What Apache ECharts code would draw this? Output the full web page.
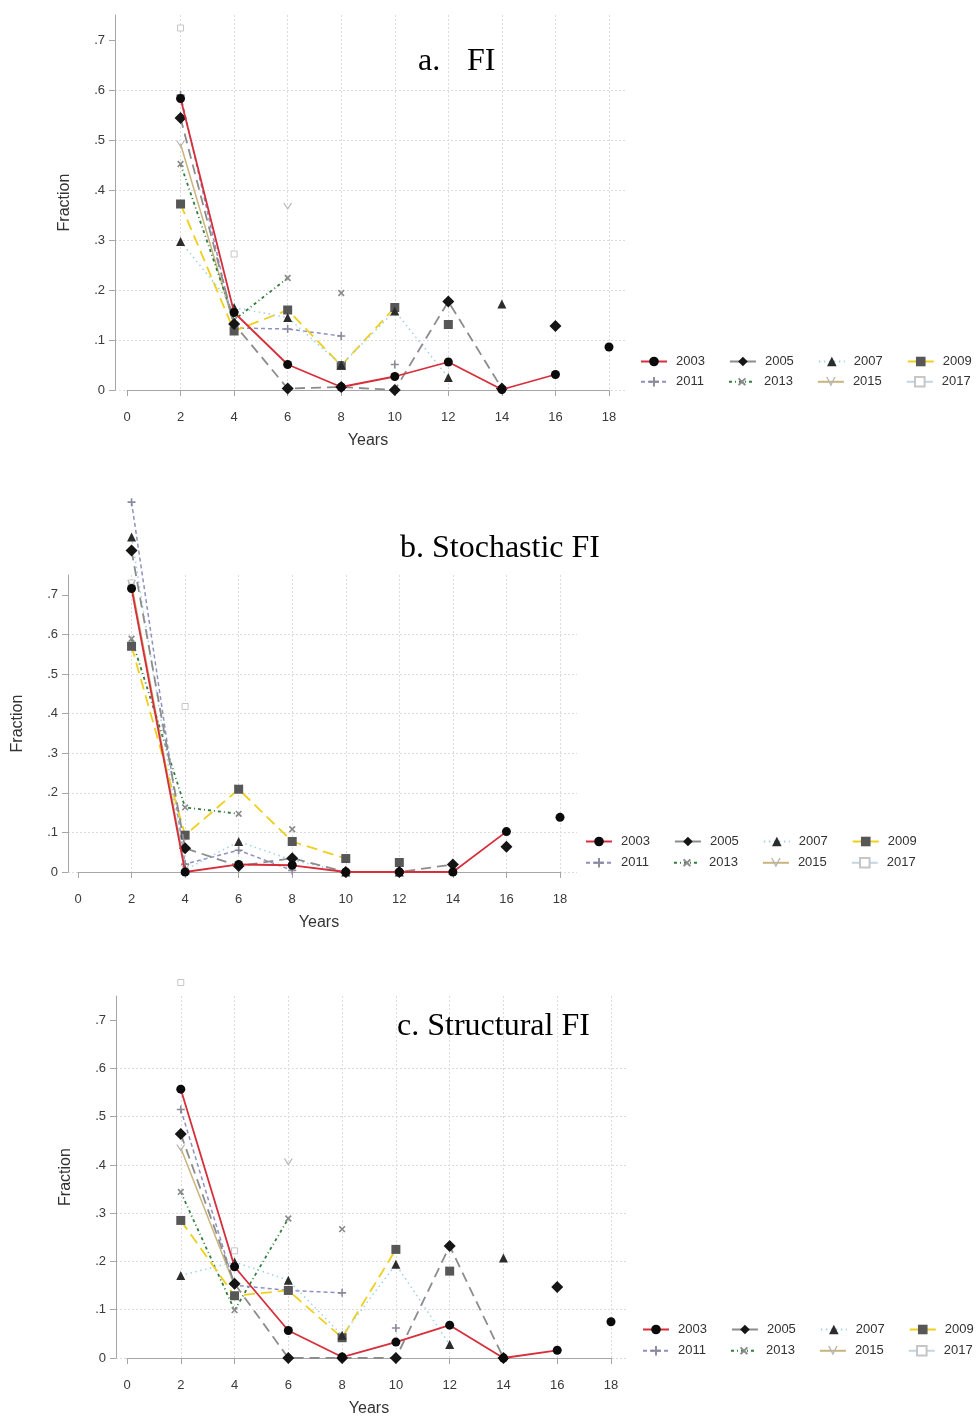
<!DOCTYPE html>
<html>
<head>
<meta charset="utf-8">
<script src="https://cdn.jsdelivr.net/npm/echarts@6/dist/echarts.min.js"></script>
<style>
  html, body { margin: 0; padding: 0; background: #ffffff; }
  #chart { width: 977px; height: 1418px; }
</style>
</head>
<body>
<div id="chart"></div>
<script>
// Years since entry (x positions) and cohort names
const yearsSince = [2, 4, 6, 8, 10, 12, 14, 16, 18];
const cohorts = ['2003', '2005', '2007', '2009', '2011', '2013', '2015', '2017'];
const xTicks = [0, 2, 4, 6, 8, 10, 12, 14, 16, 18];
const yTicks = [0, 0.1, 0.2, 0.3, 0.4, 0.5, 0.6, 0.7];
const yTickLabels = ['0', '.1', '.2', '.3', '.4', '.5', '.6', '.7'];
const panelTitles = ['a.   \u200AFI', 'b. Stochastic FI', 'c. Structural FI'];

// a. FI — fraction by years since entry, one array per cohort
const fi2003 = [0.583, 0.155, 0.051, 0.006, 0.027, 0.056, 0.001, 0.031, 0.086];
const fi2005 = [0.544, 0.132, 0.003, 0.006, 0.000, 0.177, 0.003, 0.128];
const fi2007 = [0.297, 0.165, 0.145, 0.050, 0.158, 0.025, 0.172];
const fi2009 = [0.372, 0.118, 0.160, 0.049, 0.165, 0.131];
const fi2011 = [0.590, 0.124, 0.122, 0.108, 0.051];
const fi2013 = [0.452, 0.140, 0.224, 0.194];
const fi2015 = [0.492, 0.130, 0.367];
const fi2017 = [0.724, 0.272];

// b. Stochastic FI
const st2003 = [0.716, 0.000, 0.019, 0.017, 0.000, 0.000, 0.000, 0.102, 0.138];
const st2005 = [0.812, 0.060, 0.015, 0.035, 0.000, 0.000, 0.019, 0.064];
const st2007 = [0.846, 0.005, 0.077, 0.030, 0.000, 0.000, 0.005];
const st2009 = [0.570, 0.093, 0.209, 0.077, 0.034, 0.024];
const st2011 = [0.934, 0.020, 0.055, 0.004, 0.000];
const st2013 = [0.589, 0.163, 0.147, 0.108];
const st2015 = [0.728, 0.010, 0.212];
const st2017 = [0.730, 0.418];

// c. Structural FI
const sf2003 = [0.557, 0.189, 0.057, 0.002, 0.033, 0.068, 0.000, 0.016, 0.075];
const sf2005 = [0.464, 0.154, 0.000, 0.000, 0.000, 0.232, 0.000, 0.147];
const sf2007 = [0.171, 0.199, 0.161, 0.047, 0.194, 0.028, 0.207];
const sf2009 = [0.285, 0.129, 0.140, 0.042, 0.225, 0.180];
const sf2011 = [0.515, 0.151, 0.140, 0.135, 0.062];
const sf2013 = [0.344, 0.099, 0.289, 0.267];
const sf2015 = [0.435, 0.150, 0.406];
const sf2017 = [0.778, 0.222];

const panelData = [
  [fi2003, fi2005, fi2007, fi2009, fi2011, fi2013, fi2015, fi2017],
  [st2003, st2005, st2007, st2009, st2011, st2013, st2015, st2017],
  [sf2003, sf2005, sf2007, sf2009, sf2011, sf2013, sf2015, sf2017]
];

// Marker shapes
const plusPath = 'path://M4,0H6V4H10V6H6V10H4V6H0V4H4Z';
const vPath = 'path://M0,0L5,8L10,0H8.5L5,5.6L1.5,0Z';

// Per-cohort line and marker styles
const cohortStyles = [
  { line: { color: '#d62e3a', width: 1.8, type: 'solid' }, symbol: 'circle', size: 9, item: { color: '#0b0b0b' } },
  { line: { color: '#8c8c8c', width: 1.8, type: [10, 6] }, symbol: 'diamond', size: 12, item: { color: '#151515' } },
  { line: { color: '#9fd2e3', width: 1.5, type: [1.5, 3.5] }, symbol: 'triangle', size: 9, item: { color: '#2c2c2c' } },
  { line: { color: '#f0cf1c', width: 1.8, type: [11, 6] }, symbol: 'rect', size: 9, item: { color: '#575757' } },
  { line: { color: '#9090c4', width: 1.5, type: [4, 3] }, symbol: plusPath, size: 8, item: { color: '#8a8a9a' } },
  { line: { color: '#2f7d3c', width: 1.8, type: [3, 3, 1, 3] }, symbol: plusPath, size: 8, rotate: 45, item: { color: '#8a8a8a' } },
  { line: { color: '#c8b47c', width: 1.5, type: 'solid' }, symbol: vPath, size: 9, item: { color: '#b5b5b5' } },
  { line: { color: '#c3d5e0', width: 1.5, type: 'solid' }, symbol: 'rect', size: 6, item: { color: '#ffffff', borderColor: '#c6c6c6', borderWidth: 1 } }
];

// Panel geometry: plot frame (y axis + horizontal grid) and x-axis frame (0..18)
const layouts = [
  { plot: { left: 115, top: 15, width: 511, height: 375 }, xFrame: { left: 127, width: 482 },
    title: { left: 418, top: 46 }, legend: { left: 640, rows: [356, 376] } },
  { plot: { left: 68, top: 575, width: 509, height: 297 }, xFrame: { left: 78, width: 482 },
    title: { left: 400, top: 533 }, legend: { left: 585, rows: [836, 857] } },
  { plot: { left: 116, top: 996, width: 512, height: 362 }, xFrame: { left: 127, width: 484 },
    title: { left: 397, top: 1011 }, legend: { left: 642, rows: [1324, 1345] } }
];

const sansFont = "'Liberation Sans', Arial, Helvetica, sans-serif";
const serifFont = "'Liberation Serif', 'Times New Roman', serif";
const axisGray = '#a6a6a6';
const gridGray = '#dcdcdc';

const option = {
  backgroundColor: '#ffffff',
  animation: false,
  title: [],
  legend: [],
  grid: [],
  xAxis: [],
  yAxis: [],
  series: []
};

const lineSeries = [];
const loneSeries = [];

layouts.forEach((L, p) => {
  const gPlot = 2 * p, gX = 2 * p + 1;

  option.grid.push({ left: L.plot.left, top: L.plot.top, width: L.plot.width, height: L.plot.height, containLabel: false });
  option.grid.push({ left: L.xFrame.left, top: L.plot.top, width: L.xFrame.width, height: L.plot.height, containLabel: false });

  // Hidden x axis of the plot frame
  option.xAxis.push({ type: 'value', gridIndex: gPlot, min: 0, max: 1, show: false });
  // Visible x axis spanning 0..18
  option.xAxis.push({
    type: 'value', gridIndex: gX, min: 0, max: 18, interval: 2, offset: 10,
    name: 'Years', nameLocation: 'middle', nameGap: 33,
    nameTextStyle: { fontFamily: sansFont, fontSize: 16, color: '#333' },
    axisLine: { show: true, lineStyle: { color: axisGray, width: 1 } },
    axisTick: { show: true, length: 6, lineStyle: { color: axisGray } },
    axisLabel: { fontFamily: sansFont, fontSize: 13, color: '#3a3a3a', margin: 11 },
    splitLine: { show: true, showMinLine: false, lineStyle: { color: gridGray, type: [2, 2], width: 1 } }
  });

  // Visible y axis with horizontal grid
  option.yAxis.push({
    type: 'value', gridIndex: gPlot, min: 0, max: 0.75,
    name: 'Fraction', nameLocation: 'middle', nameGap: 42, nameRotate: 90,
    nameTextStyle: { fontFamily: sansFont, fontSize: 16, color: '#333' },
    axisLine: { show: true, lineStyle: { color: axisGray, width: 1 } },
    axisTick: { show: true, length: 6, customValues: yTicks, lineStyle: { color: axisGray } },
    axisLabel: {
      fontFamily: sansFont, fontSize: 13, color: '#3a3a3a', margin: 10, customValues: yTicks,
      formatter: v => yTickLabels[yTicks.findIndex(t => Math.abs(t - v) < 1e-9)] || ''
    },
    splitLine: { show: true, showMaxLine: false, lineStyle: { color: gridGray, type: [2, 2], width: 1 } }
  });
  // Hidden y axis of the x-axis frame (same scale)
  option.yAxis.push({ type: 'value', gridIndex: gX, min: 0, max: 0.75, show: false });

  option.title.push({
    text: panelTitles[p], left: L.title.left, top: L.title.top, padding: 0,
    textStyle: { fontFamily: serifFont, fontSize: 32, fontWeight: 'normal', color: '#000' }
  });

  L.legend.rows.forEach((top, r) => {
    option.legend.push({
      data: cohorts.slice(r * 4, r * 4 + 4),
      left: L.legend.left, top: top - 1, width: 400, orient: 'horizontal',
      itemWidth: 26, itemHeight: 12, itemGap: 24, padding: 0,
      selectedMode: false,
      textStyle: { fontFamily: sansFont, fontSize: 13, color: '#333', padding: [0, 0, 0, 4] }
    });
  });

  panelData[p].forEach((values, c) => {
    const st = cohortStyles[c];
    const pts = values.map((v, i) => [yearsSince[i], v]);
    const marker = {
      symbol: st.symbol, symbolSize: st.size, symbolRotate: st.rotate || 0, symbolKeepAspect: true,
      itemStyle: Object.assign({ opacity: 1 }, st.item)
    };
    // Connected part of the cohort's profile
    lineSeries.push(Object.assign({
      name: cohorts[c], type: 'line', xAxisIndex: gX, yAxisIndex: gX,
      data: pts.slice(0, -1), showSymbol: true, showAllSymbol: true, clip: false,
      lineStyle: Object.assign({}, st.line), z: 10 - c, silent: true
    }, marker));
    // Final, unconnected observation
    loneSeries.push(Object.assign({
      name: cohorts[c], type: 'scatter', xAxisIndex: gX, yAxisIndex: gX,
      data: pts.slice(-1), clip: false, z: 10 - c, silent: true
    }, marker));
  });
});

option.series = lineSeries.concat(loneSeries);

const chart = echarts.init(document.getElementById('chart'), null, { renderer: 'canvas' });
chart.setOption(option);
</script>
</body>
</html>
